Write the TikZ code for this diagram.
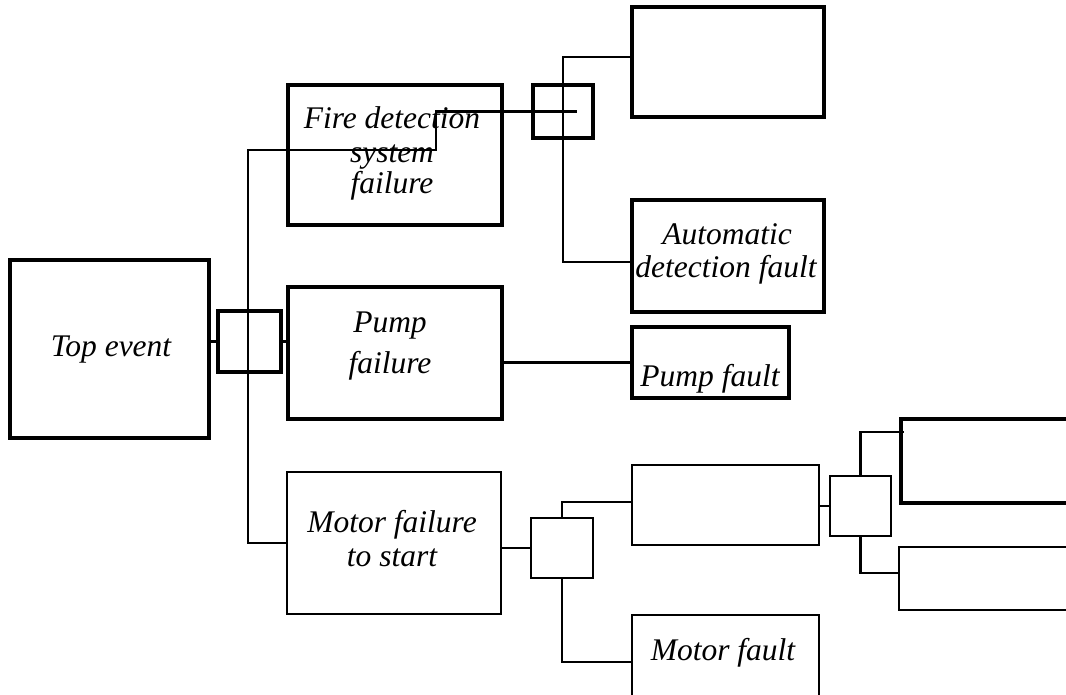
\documentclass[tikz,border=0pt]{standalone}
\usepackage{fontspec}
\setmainfont{Liberation Serif}
\begin{document}
\begin{tikzpicture}[x=1pt,y=-1pt,
  thickbox/.style={draw, line width=4pt, inner sep=0pt, rectangle},
  thinbox/.style={draw, line width=2.8pt, inner sep=0pt, rectangle, line cap=round},
  conn/.style={draw, line width=2.6pt},
  lbl/.style={anchor=base, inner sep=0pt, font=\fontsize{31.5}{34}\selectfont\itshape}]
\useasboundingbox[fill=white] (0,0) rectangle (1066,694);
\clip (0,0) rectangle (1066,694);
% boxes
\node[thickbox, minimum width=199pt, minimum height=178pt] (top) at (109.5,349) {};
\node[thickbox, minimum width=63pt, minimum height=61pt] (gate1) at (249.5,341.5) {};
\node[thickbox, minimum width=214pt, minimum height=140pt] (fire) at (395,155) {};
\node[thickbox, minimum width=60pt, minimum height=53pt] (gate2) at (563,111.5) {};
\node[thickbox, minimum width=192pt, minimum height=110pt] (tr) at (728,62) {};
\node[thickbox, minimum width=192pt, minimum height=112pt] (adf) at (728,256) {};
\node[thickbox, minimum width=214pt, minimum height=132pt] (pump) at (395,353) {};
\node[thickbox, minimum width=157pt, minimum height=71pt] (pf) at (710.5,362.5) {};
\node[thinbox, minimum width=214pt, minimum height=142pt] (motor) at (394,543) {};
\node[thinbox, minimum width=62pt, minimum height=60pt] (gate3) at (562,548) {};
\node[thinbox, minimum width=187pt, minimum height=80pt] (mid) at (725.5,505) {};
\node[thinbox, minimum width=187pt, minimum height=105pt] (mf) at (725.5,667.5) {};
\node[thinbox, minimum width=61pt, minimum height=60pt] (gate4) at (860.5,506) {};
\node[thickbox, minimum width=189pt, minimum height=84pt] (rt1) at (995.5,461) {};
\node[thinbox, minimum width=191pt, minimum height=63pt] (rt2) at (994.5,578.5) {};
% labels
\node[lbl] (ltop) at (111,356) {Top event};
\node[lbl] (lfire1) at (392,128) {Fire detection};
\node[lbl] (lfire2) at (392,162) {system};
\node[lbl] (lfire3) at (392,193) {failure};
\node[lbl] (lpump1) at (390,332) {Pump};
\node[lbl] (lpump2) at (390,373) {failure};
\node[lbl] (ladf1) at (727,244) {Automatic};
\node[lbl] (ladf2) at (726,277) {detection fault};
\node[lbl] (lpf) at (710,386) {Pump fault};
\node[lbl] (lmot1) at (392,532) {Motor failure};
\node[lbl] (lmot2) at (392,566) {to start};
\node[lbl] (lmf) at (723,660) {Motor fault};
% connectors
\coordinate (j1) at (248,150);
\draw[conn] (gate1.west) -- (gate1.west -| top.east);
\draw[conn] (gate1.east) -- (gate1.east -| pump.west);
\draw[conn] (motor.west) -| (j1) -- ++(188,0) |- ([xshift=14pt]gate2.center);
\draw[conn] ([yshift=5pt]tr.west) -| (gate2.center) |- ([yshift=-6pt]adf.west);
\draw[conn] (pf.west) -- (pf.west -| pump.east);
\draw[conn] (gate3.west) -- (gate3.west -| motor.east);
\draw[conn] (gate3.north) |- ([yshift=3pt]mid.west);
\draw[conn] (gate3.south) |- ([yshift=5.5pt]mf.west);
\draw[conn] (gate4.west) -- (gate4.west -| mid.east);
\draw[conn] (gate4.north) |- ([xshift=5pt,yshift=29pt]rt1.west);
\draw[conn] (gate4.south) |- ([yshift=5.5pt]rt2.west);
\end{tikzpicture}
\end{document}
